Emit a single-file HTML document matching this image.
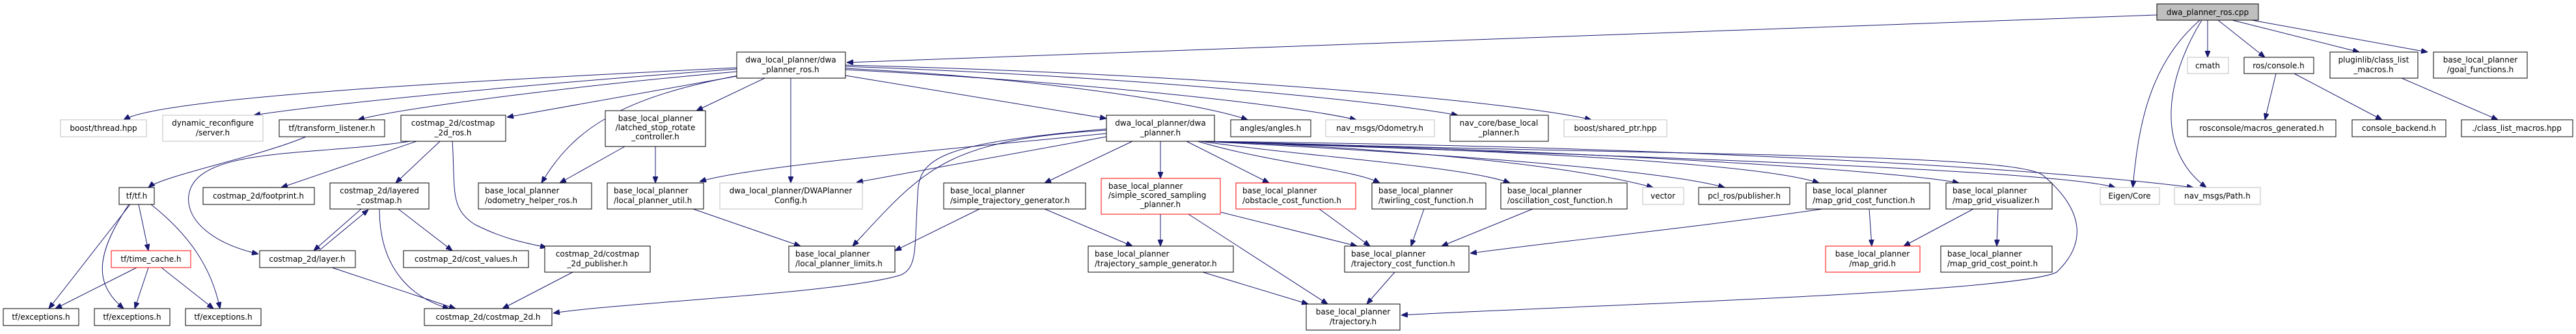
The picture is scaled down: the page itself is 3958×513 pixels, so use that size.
<!DOCTYPE html>
<html><head><meta charset="utf-8"><style>
html,body{margin:0;padding:0;background:#fff;}
svg{display:block;}
text{font-family:"DejaVu Sans","Liberation Sans",sans-serif;font-size:12px;fill:#000;}
.n{fill:#fff;stroke:#000;stroke-width:1;}
.g{fill:#fff;stroke:#bfbfbf;stroke-width:1;}
.r{fill:#fff;stroke:#ff0000;stroke-width:1;}
.e{fill:none;stroke:#191970;stroke-width:1;marker-end:url(#a);}
</style></head><body>
<svg width="3958" height="513" viewBox="0 0 3958 513" xmlns="http://www.w3.org/2000/svg">
<defs><marker id="a" markerWidth="10" markerHeight="8" refX="10" refY="4" orient="auto" markerUnits="userSpaceOnUse"><path d="M0,0 L10,4 L0,8 Z" fill="#191970" stroke="#191970"/></marker></defs>
<g>
<!-- cpp edges -->
<path class="e" d="M3314,23 L1301,96"/>
<path class="e" d="M3392,31 L3392,88"/>
<path class="e" d="M3408,31 L3480,88"/>
<path class="e" d="M3430,31 L3625,80"/>
<path class="e" d="M3460,31 L3730,80"/>
<path class="e" d="M3380,31 C3300,100 3285,200 3277,288"/>
<path class="e" d="M3383,31 C3340,100 3300,220 3390,288"/>
<path class="e" d="M3497,113 L3480,184"/>
<path class="e" d="M3525,113 L3660,184"/>
<path class="e" d="M3690,120 L3838,184"/>
<!-- planner_ros edges -->
<path class="e" d="M1132,104 C700,125 250,150 190,184"/>
<path class="e" d="M1132,106 C800,130 500,160 390,177"/>
<path class="e" d="M1132,110 C900,130 620,165 550,184"/>
<path class="e" d="M1132,117 L779,180"/>
<path class="e" d="M1140,115 C950,150 880,200 832,281"/>
<path class="e" d="M1175,120 L1070,170"/>
<path class="e" d="M1215,120 L1215,281"/>
<path class="e" d="M1299,116 L1700,182"/>
<path class="e" d="M1299,105 C1600,120 1850,160 1917,184"/>
<path class="e" d="M1299,107 C1650,125 1980,160 2084,184"/>
<path class="e" d="M1299,102 C1800,120 2150,160 2240,177"/>
<path class="e" d="M1299,100 C1900,115 2350,160 2445,184"/>
<!-- costmap -->
<path class="e" d="M470,210 C400,240 250,270 228,288"/>
<path class="e" d="M640,217 L432,288"/>
<path class="e" d="M676,217 L608,281"/>
<path class="e" d="M630,217 C480,240 300,225 290,300 C285,340 330,375 397,390"/>
<path class="e" d="M695,217 C700,290 690,320 730,345 C770,365 800,372 840,380"/>
<path class="e" d="M555,321 L482,385"/>
<path class="e" d="M490,385 L566,322"/>
<path class="e" d="M612,321 L695,385"/>
<path class="e" d="M583,321 C583,420 640,460 690,474"/>
<path class="e" d="M510,411 L700,474"/>
<path class="e" d="M880,418 L772,474"/>
<path class="e" d="M200,314 L75,474"/>
<path class="e" d="M198,314 C140,400 150,440 190,474"/>
<path class="e" d="M213,314 L228,385"/>
<path class="e" d="M232,314 C290,360 325,410 338,474"/>
<path class="e" d="M210,411 L85,474"/>
<path class="e" d="M228,411 L207,474"/>
<path class="e" d="M248,411 L328,474"/>
<!-- latched -->
<path class="e" d="M960,225 L860,281"/>
<path class="e" d="M1007,225 L1007,281"/>
<path class="e" d="M1065,321 L1230,378"/>
<!-- dwa_planner -->
<path class="e" d="M1700,205 C1500,225 1150,255 1075,279"/>
<path class="e" d="M1700,210 L1316,280"/>
<path class="e" d="M1700,200 C1450,215 1420,260 1310,378"/>
<path class="e" d="M1700,198 C1450,220 1410,240 1410,300 C1405,380 1410,410 1385,422 C1300,450 950,465 850,481"/>
<path class="e" d="M1740,217 L1605,281"/>
<path class="e" d="M1783,217 L1783,274"/>
<path class="e" d="M1823,217 L1950,281"/>
<path class="e" d="M1840,217 C1950,250 2080,260 2120,281"/>
<path class="e" d="M1845,217 C2000,240 2250,255 2320,281"/>
<path class="e" d="M1845,217 C2100,225 2400,250 2540,288"/>
<path class="e" d="M1845,217 C2200,235 2550,260 2650,288"/>
<path class="e" d="M1845,217 C2300,230 2700,250 2795,281"/>
<path class="e" d="M1845,217 C2400,230 2900,260 3010,281"/>
<path class="e" d="M1845,217 C2500,240 3150,260 3250,288"/>
<path class="e" d="M1845,217 C2600,225 3150,260 3370,288"/>
<path class="e" d="M1850,217 C2600,240 3100,235 3140,270 C3210,330 3200,380 3160,418 C3100,450 2400,470 2153,484"/>
<path class="e" d="M1505,321 L1375,385"/>
<path class="e" d="M1605,321 L1740,378"/>
<path class="e" d="M1783,329 L1783,378"/>
<path class="e" d="M1826,329 L2040,467"/>
<path class="e" d="M1876,326 L2085,378"/>
<path class="e" d="M2027,321 L2105,378"/>
<path class="e" d="M2188,321 L2168,378"/>
<path class="e" d="M2355,321 L2215,378"/>
<path class="e" d="M2800,321 C2600,350 2400,370 2259,389"/>
<path class="e" d="M1848,418 L2010,467"/>
<path class="e" d="M2143,418 L2100,467"/>
<path class="e" d="M2872,321 L2876,378"/>
<path class="e" d="M3032,321 L2925,378"/>
<path class="e" d="M3070,321 L3068,378"/>
</g>
<g>
<rect x="3314" y="6" width="156" height="25" fill="#bfbfbf" stroke="#000"/><text x="3392" y="23" text-anchor="middle">dwa_planner_ros.cpp</text>
<rect class="g" x="3361" y="88" width="63" height="25"/><text x="3392" y="105" text-anchor="middle">cmath</text>
<rect class="n" x="3448" y="88" width="107" height="25"/><text x="3501" y="105" text-anchor="middle">ros/console.h</text>
<rect class="n" x="3580" y="80" width="135" height="40"/><text x="3647" y="96" text-anchor="middle">pluginlib/class_list</text><text x="3647" y="111" text-anchor="middle">_macros.h</text>
<rect class="n" x="3739" y="80" width="144" height="40"/><text x="3811" y="96" text-anchor="middle">base_local_planner</text><text x="3811" y="111" text-anchor="middle">/goal_functions.h</text>
<rect class="n" x="3361" y="184" width="228" height="26"/><text x="3475" y="201" text-anchor="middle">rosconsole/macros_generated.h</text>
<rect class="n" x="3614" y="184" width="144" height="26"/><text x="3686" y="201" text-anchor="middle">console_backend.h</text>
<rect class="n" x="3782" y="184" width="171" height="26"/><text x="3867" y="201" text-anchor="middle">./class_list_macros.hpp</text>

<rect class="n" x="1132" y="80" width="167" height="40"/><text x="1215" y="96" text-anchor="middle">dwa_local_planner/dwa</text><text x="1215" y="111" text-anchor="middle">_planner_ros.h</text>
<rect class="g" x="93" y="184" width="132" height="26"/><text x="159" y="201" text-anchor="middle">boost/thread.hpp</text>
<rect class="g" x="250" y="177" width="154" height="40"/><text x="327" y="193" text-anchor="middle">dynamic_reconfigure</text><text x="327" y="208" text-anchor="middle">/server.h</text>
<rect class="n" x="429" y="184" width="162" height="26"/><text x="510" y="201" text-anchor="middle">tf/transform_listener.h</text>
<rect class="n" x="616" y="177" width="161" height="40"/><text x="696" y="193" text-anchor="middle">costmap_2d/costmap</text><text x="696" y="208" text-anchor="middle">_2d_ros.h</text>
<rect class="n" x="930" y="170" width="154" height="55"/><text x="1007" y="186" text-anchor="middle">base_local_planner</text><text x="1007" y="200" text-anchor="middle">/latched_stop_rotate</text><text x="1007" y="214" text-anchor="middle">_controller.h</text>
<rect class="n" x="1700" y="177" width="166" height="40"/><text x="1783" y="193" text-anchor="middle">dwa_local_planner/dwa</text><text x="1783" y="208" text-anchor="middle">_planner.h</text>
<rect class="n" x="1891" y="184" width="123" height="26"/><text x="1952" y="201" text-anchor="middle">angles/angles.h</text>
<rect class="g" x="2037" y="184" width="167" height="26"/><text x="2120" y="201" text-anchor="middle">nav_msgs/Odometry.h</text>
<rect class="n" x="2228" y="177" width="151" height="40"/><text x="2303" y="193" text-anchor="middle">nav_core/base_local</text><text x="2303" y="208" text-anchor="middle">_planner.h</text>
<rect class="g" x="2403" y="184" width="158" height="26"/><text x="2482" y="201" text-anchor="middle">boost/shared_ptr.hpp</text>

<rect class="n" x="183" y="288" width="54" height="26"/><text x="210" y="305" text-anchor="middle">tf/tf.h</text>
<rect class="n" x="312" y="288" width="171" height="26"/><text x="397" y="305" text-anchor="middle">costmap_2d/footprint.h</text>
<rect class="n" x="507" y="281" width="152" height="40"/><text x="583" y="297" text-anchor="middle">costmap_2d/layered</text><text x="583" y="312" text-anchor="middle">_costmap.h</text>
<rect class="n" x="735" y="281" width="174" height="40"/><text x="745" y="297">base_local_planner</text><text x="745" y="312">/odometry_helper_ros.h</text>
<rect class="n" x="933" y="281" width="148" height="40"/><text x="943" y="297">base_local_planner</text><text x="943" y="312">/local_planner_util.h</text>
<rect class="g" x="1106" y="281" width="219" height="40"/><text x="1215" y="297" text-anchor="middle">dwa_local_planner/DWAPlanner</text><text x="1215" y="312" text-anchor="middle">Config.h</text>
<rect class="n" x="1450" y="281" width="218" height="40"/><text x="1460" y="297">base_local_planner</text><text x="1460" y="312">/simple_trajectory_generator.h</text>
<rect class="r" x="1692" y="274" width="183" height="55"/><text x="1703" y="290">base_local_planner</text><text x="1703" y="304">/simple_scored_sampling</text><text x="1783" y="318" text-anchor="middle">_planner.h</text>
<rect class="r" x="1899" y="281" width="184" height="40"/><text x="1909" y="297">base_local_planner</text><text x="1909" y="312">/obstacle_cost_function.h</text>
<rect class="n" x="2108" y="281" width="175" height="40"/><text x="2118" y="297">base_local_planner</text><text x="2118" y="312">/twirling_cost_function.h</text>
<rect class="n" x="2306" y="281" width="194" height="40"/><text x="2316" y="297">base_local_planner</text><text x="2316" y="312">/oscillation_cost_function.h</text>
<rect class="g" x="2524" y="288" width="63" height="26"/><text x="2555" y="305" text-anchor="middle">vector</text>
<rect class="n" x="2610" y="288" width="140" height="26"/><text x="2680" y="305" text-anchor="middle">pcl_ros/publisher.h</text>
<rect class="n" x="2775" y="281" width="190" height="40"/><text x="2785" y="297">base_local_planner</text><text x="2785" y="312">/map_grid_cost_function.h</text>
<rect class="n" x="2990" y="281" width="163" height="40"/><text x="3000" y="297">base_local_planner</text><text x="3000" y="312">/map_grid_visualizer.h</text>
<rect class="g" x="3227" y="288" width="91" height="26"/><text x="3272" y="305" text-anchor="middle">Eigen/Core</text>
<rect class="g" x="3341" y="288" width="132" height="26"/><text x="3407" y="305" text-anchor="middle">nav_msgs/Path.h</text>

<rect class="r" x="171" y="385" width="122" height="26"/><text x="232" y="402" text-anchor="middle">tf/time_cache.h</text>
<rect class="n" x="399" y="385" width="147" height="26"/><text x="472" y="402" text-anchor="middle">costmap_2d/layer.h</text>
<rect class="n" x="620" y="385" width="192" height="26"/><text x="716" y="402" text-anchor="middle">costmap_2d/cost_values.h</text>
<rect class="n" x="837" y="378" width="162" height="40"/><text x="918" y="394" text-anchor="middle">costmap_2d/costmap</text><text x="918" y="409" text-anchor="middle">_2d_publisher.h</text>
<rect class="n" x="1212" y="378" width="163" height="40"/><text x="1222" y="394">base_local_planner</text><text x="1222" y="409">/local_planner_limits.h</text>
<rect class="n" x="1672" y="378" width="223" height="40"/><text x="1682" y="394">base_local_planner</text><text x="1682" y="409">/trajectory_sample_generator.h</text>
<rect class="n" x="2066" y="378" width="191" height="40"/><text x="2076" y="394">base_local_planner</text><text x="2076" y="409">/trajectory_cost_function.h</text>
<rect class="r" x="2805" y="378" width="145" height="40"/><text x="2877" y="394" text-anchor="middle">base_local_planner</text><text x="2877" y="409" text-anchor="middle">/map_grid.h</text>
<rect class="n" x="2982" y="378" width="171" height="40"/><text x="2992" y="394">base_local_planner</text><text x="2992" y="409">/map_grid_cost_point.h</text>

<rect class="n" x="5" y="474" width="116" height="26"/><text x="63" y="491" text-anchor="middle">tf/exceptions.h</text>
<rect class="n" x="145" y="474" width="116" height="26"/><text x="203" y="491" text-anchor="middle">tf/exceptions.h</text>
<rect class="n" x="285" y="474" width="116" height="26"/><text x="343" y="491" text-anchor="middle">tf/exceptions.h</text>
<rect class="n" x="652" y="474" width="196" height="26"/><text x="750" y="491" text-anchor="middle">costmap_2d/costmap_2d.h</text>
<rect class="n" x="2007" y="467" width="144" height="40"/><text x="2079" y="483" text-anchor="middle">base_local_planner</text><text x="2079" y="498" text-anchor="middle">/trajectory.h</text>
</g>
</svg>
</body></html>
